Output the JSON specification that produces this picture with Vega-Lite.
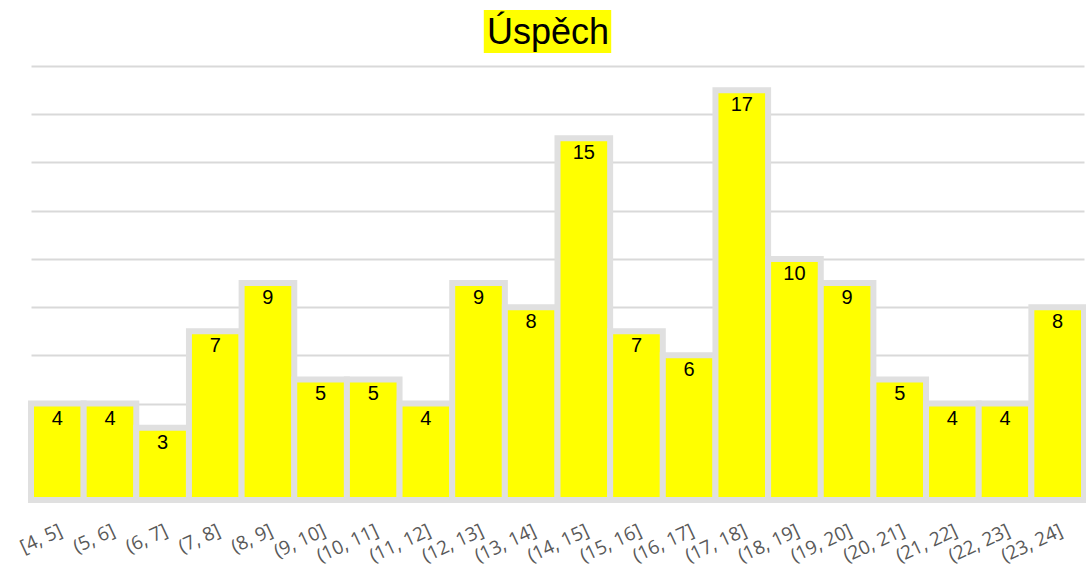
{
  "$schema": "https://vega.github.io/schema/vega-lite/v6.json",
  "width": 1053,
  "height": 494,
  "autosize": "none",
  "padding": {"left": 31, "top": 6, "right": 2, "bottom": 83},
  "background": "white",
  "config": {"view": {"stroke": null}},
  "resolve": {"scale": {"x": "independent"}},
  "layer": [
    {
      "data": {"values": [
        {"bin": "[4, 5]", "count": 4},
        {"bin": "(5, 6]", "count": 4},
        {"bin": "(6, 7]", "count": 3},
        {"bin": "(7, 8]", "count": 7},
        {"bin": "(8, 9]", "count": 9},
        {"bin": "(9, 10]", "count": 5},
        {"bin": "(10, 11]", "count": 5},
        {"bin": "(11, 12]", "count": 4},
        {"bin": "(12, 13]", "count": 9},
        {"bin": "(13, 14]", "count": 8},
        {"bin": "(14, 15]", "count": 15},
        {"bin": "(15, 16]", "count": 7},
        {"bin": "(16, 17]", "count": 6},
        {"bin": "(17, 18]", "count": 17},
        {"bin": "(18, 19]", "count": 10},
        {"bin": "(19, 20]", "count": 9},
        {"bin": "(20, 21]", "count": 5},
        {"bin": "(21, 22]", "count": 4},
        {"bin": "(22, 23]", "count": 4},
        {"bin": "(23, 24]", "count": 8}
      ]},
      "encoding": {
        "x": {
          "field": "bin", "type": "nominal", "sort": null,
          "scale": {"paddingInner": 0, "paddingOuter": 0},
          "axis": {"title": null, "labelAngle": -25, "labelFont": "Open Sans", "labelFontSize": 19, "labelColor": "#595959", "ticks": false, "domain": false, "labelPadding": 21, "grid": false}
        },
        "y": {
          "field": "count", "type": "quantitative",
          "scale": {"domain": [0, 20.49], "nice": false},
          "axis": {"title": null, "values": [0, 2, 4, 6, 8, 10, 12, 14, 16, 18], "labels": false, "ticks": false, "domain": false, "grid": true, "gridColor": "#d9d9d9", "gridWidth": 2}
        }
      },
      "layer": [
        {"mark": {"type": "bar", "color": "#ffff00", "stroke": "#e0e0e0", "strokeWidth": 6}},
        {"mark": {"type": "text", "baseline": "top", "dy": 5, "font": "Liberation Sans", "fontSize": 20, "color": "black"},
         "encoding": {"text": {"field": "count", "type": "quantitative"}}}
      ]
    },
    {
      "data": {"values": [{"t": "Úspěch", "x1": 0.430, "x2": 0.551, "xc": 0.491, "y1": 20.32, "y2": 18.54, "yc": 19.37}]},
      "encoding": {
        "x": {"field": "x1", "type": "quantitative", "scale": {"domain": [0, 1], "nice": false, "zero": false}, "axis": null}
      },
      "layer": [
        {"mark": {"type": "rect", "color": "#ffff00"},
         "encoding": {"x2": {"field": "x2"}, "y": {"field": "y1", "type": "quantitative"}, "y2": {"field": "y2"}}},
        {"mark": {"type": "text", "font": "Liberation Sans", "fontSize": 36, "color": "black", "baseline": "middle"},
         "encoding": {"x": {"field": "xc", "type": "quantitative", "scale": {"domain": [0, 1], "nice": false, "zero": false}, "axis": null}, "y": {"field": "yc", "type": "quantitative"}, "text": {"field": "t"}}}
      ]
    }
  ]
}
